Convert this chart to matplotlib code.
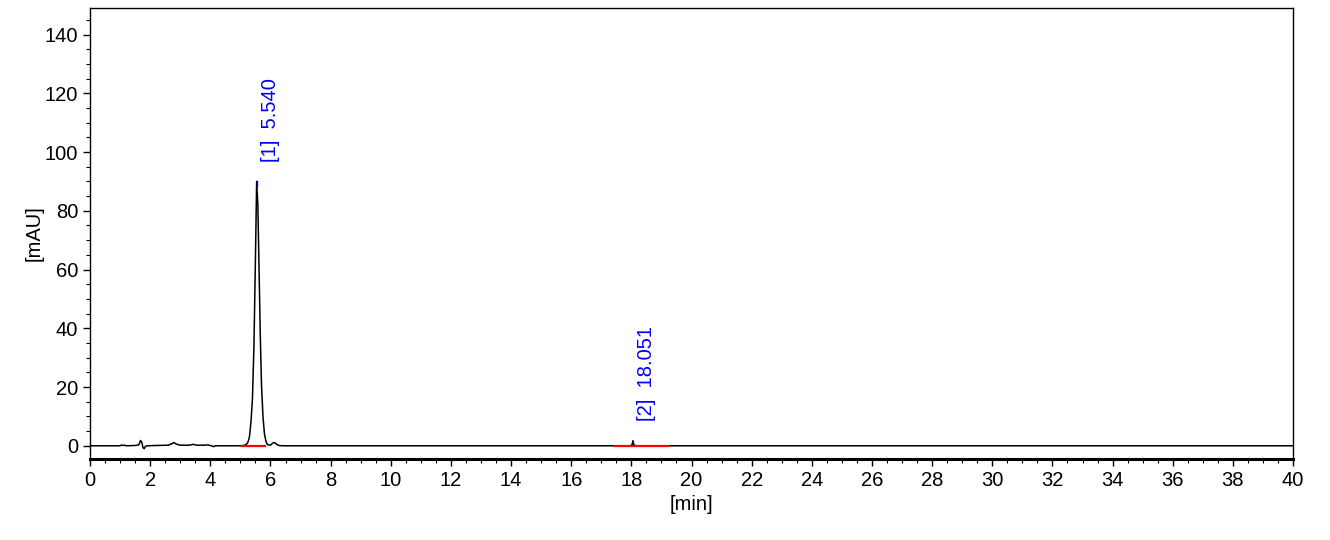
import numpy as np
import matplotlib.pyplot as plt
from matplotlib.ticker import MultipleLocator

plt.rcParams['font.family'] = ['Liberation Sans', 'DejaVu Sans']

# chromatogram trace [min], [mAU]
time = [0.0, 1.0, 1.05, 1.1, 1.15, 1.2, 1.5, 1.62, 1.68, 1.72, 1.76, 1.8, 1.84, 1.9,
        2.2, 2.6, 2.72, 2.79, 2.86, 3.0, 3.3, 3.43, 3.55, 3.8, 3.9, 4.0, 4.12, 4.16,
        4.2, 4.6, 5.0, 5.1, 5.2, 5.25, 5.3, 5.35, 5.4, 5.45, 5.5, 5.54, 5.58, 5.62,
        5.66, 5.7, 5.75, 5.8, 5.85, 5.9, 6.0, 6.05, 6.1, 6.15, 6.2, 6.3, 6.5,
        17.98, 18.03, 18.051, 18.07, 18.12, 40.0]
signal = [0.0, 0.0, 0.3, 0.1, 0.2, 0.0, 0.1, 0.3, 1.8, 1.2, -0.6, -1.0, -0.2, 0.0,
          0.1, 0.2, 0.7, 1.1, 0.6, 0.2, 0.2, 0.5, 0.2, 0.2, 0.3, 0.1, -0.3, 0.0,
          0.0, 0.0, 0.0, 0.1, 0.5, 1.2, 3.0, 8.0, 16.0, 34.0, 64.0, 90.0, 82.0, 60.0,
          38.0, 21.0, 10.0, 4.0, 1.5, 0.4, 0.2, 0.7, 1.1, 1.0, 0.5, 0.05, 0.0,
          0.0, 0.6, 1.7, 0.6, 0.0, 0.0]

# integrated peaks
peak_ids = ['[1]', '[2]']
peak_rt = [5.540, 18.051]
peak_height = [90.0, 1.7]
base_start = [5.05, 17.46]
base_end = [5.82, 19.22]

fig = plt.figure(figsize=(13.3, 5.4), dpi=100)
ax = fig.add_axes([0.0677, 0.15, 0.9045, 0.835])

ax.plot(time, signal, color='black', lw=1.1, zorder=3)

for pid, rt, h, b0, b1 in zip(peak_ids, peak_rt, peak_height, base_start, base_end):
    ax.plot([b0, b1], [0, 0], color='red', lw=1.6, zorder=4)
    ax.plot([rt, rt], [max(h - 1.6, 0), h], color='blue', lw=1.0, zorder=5)
    ax.annotate(f'{pid}  {rt:.3f}', xy=(rt, h), xytext=(10, 14),
                textcoords='offset points', rotation=90, color='blue',
                fontsize=14.5, ha='center', va='bottom')

ax.set_xlim(0, 40)
ax.set_ylim(-4.5, 149)
ax.xaxis.set_major_locator(MultipleLocator(2))
ax.xaxis.set_minor_locator(MultipleLocator(0.5))
ax.yaxis.set_major_locator(MultipleLocator(20))
ax.yaxis.set_minor_locator(MultipleLocator(5))
ax.set_yticks(np.arange(0, 141, 20))
ax.tick_params(which='major', length=5, width=1, labelsize=14.5, direction='out')
ax.tick_params(which='minor', length=3, width=0.8, direction='out')
ax.spines['bottom'].set_linewidth(2.2)
for s in ['left', 'top', 'right']:
    ax.spines[s].set_linewidth(1.0)

ax.set_xlabel('[min]', fontsize=14.5, labelpad=4)
ax.set_ylabel('[mAU]', fontsize=14.5, labelpad=1)

fig.savefig('out.png', dpi=100)
